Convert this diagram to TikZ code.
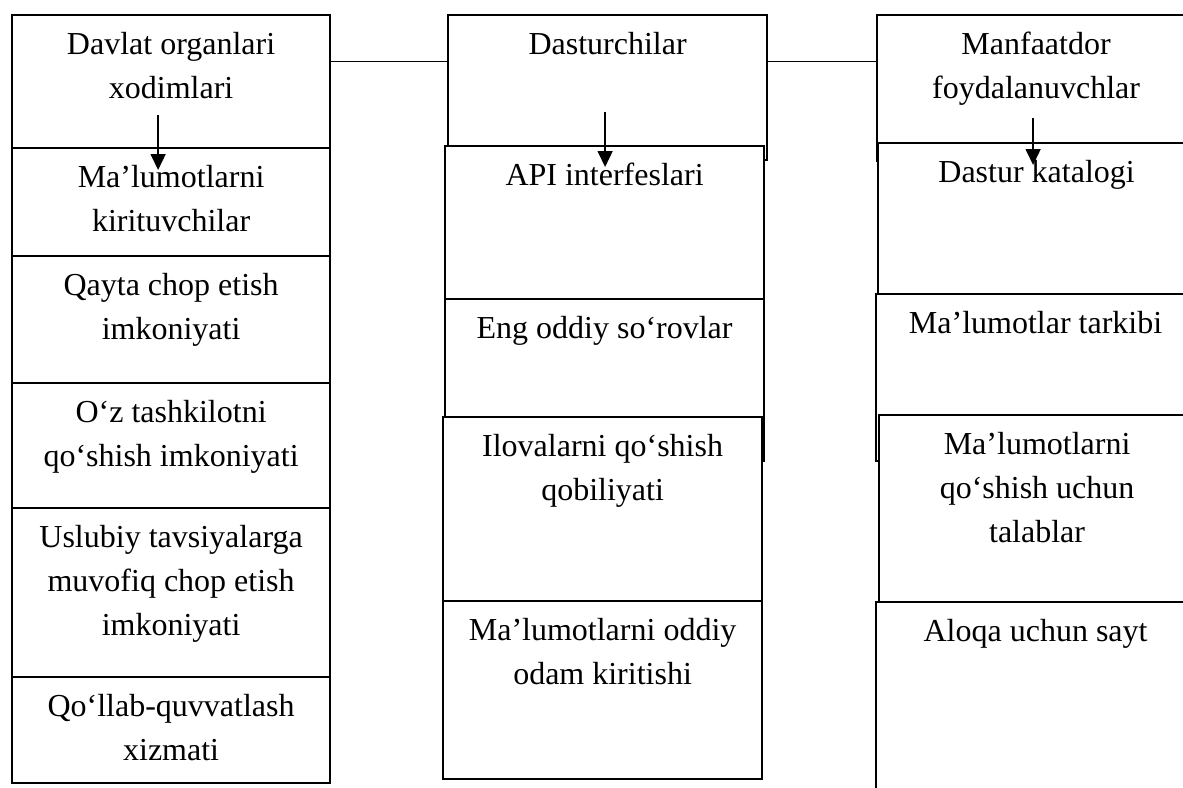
\documentclass[tikz,border=0pt]{standalone}
\usepackage{fontspec}
\setmainfont{Liberation Serif}
\usetikzlibrary{positioning,arrows.meta}

\begin{document}
\begin{tikzpicture}[x=0.5pt, y=-0.5pt,
  every node/.style = {align=center, font=\fontsize{16}{22}\selectfont},
  cell/.style = {shape=rectangle, draw, line width=1.1pt, fill=white,
    anchor=north west, inner sep=0pt},
  celltext/.style = {inner sep=0pt},
  joinline/.style = {line width=0.5pt},
  arrowdown/.style = {-{Triangle[width=7.5pt,length=8pt]}, line width=0.8pt}]
    \useasboundingbox (0,0) rectangle (1183,787);

    % left column
    \node[cell, minimum width=159pt, minimum height=66.5pt] (gov) at (11,14) {};
    \node[celltext, below=9pt of gov.north] (gov-t) {Davlat organlari\\xodimlari};
    \node[cell, minimum width=159pt, minimum height=54pt] (L1) at (11,147) {};
    \node[celltext, below=9pt of L1.north] (L1-t) {Ma’lumotlarni\\kirituvchilar};
    \node[cell, minimum width=159pt, minimum height=63.5pt] (L2) at (11,255) {};
    \node[celltext, below=9pt of L2.north] (L2-t) {Qayta chop etish\\imkoniyati};
    \node[cell, minimum width=159pt, minimum height=62.5pt] (L3) at (11,382) {};
    \node[celltext, below=9pt of L3.north] (L3-t) {O‘z tashkilotni\\qo‘shish imkoniyati};
    \node[cell, minimum width=159pt, minimum height=84.5pt] (L4) at (11,507) {};
    \node[celltext, below=9pt of L4.north] (L4-t) {Uslubiy tavsiyalarga\\muvofiq chop etish\\imkoniyati};
    \node[cell, minimum width=159pt, minimum height=53pt] (L5) at (11,676) {};
    \node[celltext, below=9pt of L5.north] (L5-t) {Qo‘llab-quvvatlash\\xizmati};

    % middle column
    \node[cell, minimum width=159.5pt, minimum height=72.5pt] (dev) at (447,14) {};
    \node[celltext, below=9pt of dev.north] (dev-t) {Dasturchilar};
    \node[cell, minimum width=159.5pt, minimum height=76.5pt] (M1) at (444,145) {};
    \node[celltext, below=9pt of M1.north] (M1-t) {API interfeslari};
    \node[cell, minimum width=159.5pt, minimum height=81pt] (M2) at (444,298) {};
    \node[celltext, below=9pt of M2.north] (M2-t) {Eng oddiy so‘rovlar};
    \node[cell, minimum width=159.5pt, minimum height=92pt] (M3) at (442,416) {};
    \node[celltext, below=9pt of M3.north] (M3-t) {Ilovalarni qo‘shish\\qobiliyati};
    \node[cell, minimum width=159.5pt, minimum height=89pt] (M4) at (442,600) {};
    \node[celltext, below=9pt of M4.north] (M4-t) {Ma’lumotlarni oddiy\\odam kiritishi};

    % right column
    \node[cell, minimum width=159pt, minimum height=73pt] (usr) at (876,14) {};
    \node[celltext, below=9pt of usr.north] (usr-t) {Manfaatdor\\foydalanuvchlar};
    \node[cell, minimum width=158.5pt, minimum height=75.5pt] (R1) at (877,142) {};
    \node[celltext, below=9pt of R1.north] (R1-t) {Dastur katalogi};
    \node[cell, minimum width=159.5pt, minimum height=83.5pt] (R2) at (875,293) {};
    \node[celltext, below=9pt of R2.north] (R2-t) {Ma’lumotlar tarkibi};
    \node[cell, minimum width=158pt, minimum height=93.5pt] (R3) at (878,414) {};
    \node[celltext, below=9pt of R3.north] (R3-t) {Ma’lumotlarni\\qo‘shish uchun\\talablar};
    \node[cell, minimum width=159.5pt, minimum height=99.5pt] (R4) at (875,601) {};
    \node[celltext, below=9pt of R4.north] (R4-t) {Aloqa uchun sayt};

    \draw[joinline] ([yshift=-23.5pt]gov.north east) -- ([yshift=-23.5pt]dev.north west);
    \draw[joinline] ([yshift=-23.5pt]dev.north east) -- ([yshift=-23.5pt]usr.north west);

    \draw[arrowdown] ([xshift=-6.5pt,yshift=17pt]gov.south) -- ([xshift=-6.5pt,yshift=-11.5pt]L1.north);
    \draw[arrowdown] ([xshift=-1.25pt,yshift=24.5pt]dev.south) -- ([xshift=0.25pt,yshift=-11pt]M1.north);
    \draw[arrowdown] ([xshift=-1.5pt,yshift=22pt]usr.south) -- ([xshift=-1.75pt,yshift=-11.5pt]R1.north);
\end{tikzpicture}
\end{document}
